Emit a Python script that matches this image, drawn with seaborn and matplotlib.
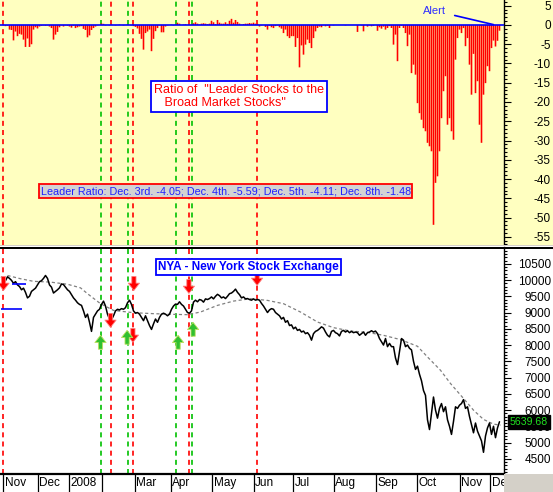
import numpy as np
import pandas as pd
import matplotlib
matplotlib.use("Agg")
import matplotlib.pyplot as plt
import matplotlib.transforms as mtransforms
from matplotlib.patches import Rectangle
import seaborn as sns

sns.set_style("white")
plt.rcParams['font.family'] = ['Liberation Sans', 'DejaVu Sans']
plt.rcParams['axes.unicode_minus'] = False

# ---------------- data ----------------
# leader-ratio bars, one per trading-day slot
ratio = [
    0, -0.1, -0.3, -0.2, -1.2, -1.3, -4.0, -1.7, -2.9, -2.3,
    -2.5, -3.8, -5.7, -3.5, -5.7, -5.0, -1.2, -0.6, -0.9, -0.4,
    -0.2, -0.1, -0.2, -0.1, -0.4, -0.8, -3.8, -2.5, -1.8, -0.6,
    -0.1, -0.4, -0.1, -0.2, -0.4, -0.7, -0.2, -0.8, -0.6, -0.4,
    -0.3, -1.0, -1.3, -3.2, -2.7, -1.3, -0.8, -0.4, -0.1, 0,
    0.4, 0.3, -0.1, 0, -0.1, 0.1, 0, -0.1, 0, 0.1,
    0, -0.1, 0, 0.1, 0, -0.1, -0.3, -0.5, -0.9, -2.3,
    -3.6, -6.4, -2.1, -1.7, -1.2, -6.8, -3.6, -1.6, -0.8, -0.1,
    -1.9, -1.9, -0.4, -0.1, 0, 0.1, -0.1, 0.1, 0.6, 0.35,
    0, 0.1, 0.2, 0, 0, 0.1, 0.45, 0.7, 0.35, 0.1,
    0.35, 0.45, 0.35, 0.2, 0.35, 1.1, 0.7, 0.2, 1.3, 0.6,
    0.35, 0.35, 0.7, 0.3, 1.1, 1.6, 0.6, 1.3, 0.8, 0.35,
    0.1, 0.25, 0.35, 0.35, 0.5, 0.4, 0.6, 0.35, 0.3, -0.4,
    -0.1, 0, -0.5, -1.2, -0.2, -0.6, -0.8, -0.3, -0.1, -0.6,
    -0.95, -2.1, -1.2, -2.9, -3.4, -2.9, -2.9, -5.7, -3.4, -11.0,
    -5.3, -7.7, -5.1, -3.8, -4.7, -6.0, -3.4, -1.65, -0.78, -0.43,
    -0.6, -0.1, -0.35, -0.2, -0.78, 0, -0.1, 0, 0, 0,
    0, 0, -0.1, 0, 0, 0, 0, 0, -1.8, 0,
    -0.1, -1.65, 0, -0.43, -0.1, -0.35, -0.2, 0, -1.5, -0.6,
    -0.95, -0.43, -1.2, -0.78, -0.3, -0.78, -5.1, -2.5, -9.4, -0.78,
    -0.2, -0.78, -2.1, -5.5, -2.5, -12.5, -10.3, -12.9, -20.3, -22.9,
    -24.6, -26.8, -27.6, -30.6, -31.5, -32.8, -51.9, -41.0, -39.3, -32.8,
    -24.2, -17.2, -13.3, -25.9, -24.2, -27.6, -29.8, -9.0, -3.4, -1.2,
    -2.1, -0.8, -5.5, -3.4, -10.3, -18.1, -7.5, -17.7, -14.6, -25.9,
    -30.6, -18.1, -15.1, -10.7, -12.0, -6.0, -4.05, -5.59, -4.11, -1.48,
]

# NYA close, one per slot
price = [
    10090, 9950, 9980, 10100, 10050, 9990, 9900, 9950, 9850, 9800,
    9700, 9750, 9620, 9450, 9500, 9650, 9700, 9750, 9850, 9950,
    9980, 10050, 10140, 10050, 9850, 9780, 9600, 9650, 9700, 9760,
    9880, 9860, 9780, 9700, 9650, 9550, 9450, 9380, 9300, 9250,
    9220, 9050, 8850, 8950, 8700, 8420, 8850, 8950, 9050, 9100,
    9250, 9350, 9200, 8950, 8800, 8780, 8900, 9050, 9100, 9080,
    9120, 9100, 9150, 9300, 9380, 9250, 9050, 8980, 9000, 8950,
    8850, 8750, 8900, 8750, 8600, 8480, 8650, 8800, 8700, 8850,
    8950, 8980, 8950, 8900, 8950, 9100, 9200, 9260, 9250, 9330,
    9250, 9200, 9100, 9000, 8980, 9050, 9320, 9380, 9330, 9400,
    9380, 9320, 9420, 9400, 9430, 9480, 9420, 9500, 9560, 9520,
    9450, 9480, 9430, 9500, 9580, 9600, 9650, 9720, 9620, 9550,
    9450, 9480, 9420, 9430, 9400, 9380, 9420, 9380, 9400, 9380,
    9280, 9200, 9100, 9000, 9080, 9120, 9100, 9000, 8950, 8900,
    8800, 8850, 8700, 8750, 8600, 8620, 8500, 8550, 8450, 8480,
    8400, 8430, 8350, 8380, 8300, 8150, 8350, 8420, 8450, 8500,
    8560, 8520, 8400, 8300, 8250, 8420, 8450, 8380, 8350, 8280,
    8420, 8450, 8400, 8440, 8380, 8420, 8380, 8400, 8380, 8300,
    8350, 8400, 8300, 8380, 8400, 8440, 8400, 8430, 8350, 8200,
    8100, 8000, 8200, 7950, 8050, 7950, 7950, 7600, 7400, 7800,
    8200, 8150, 7950, 8000, 7900, 7850, 7500, 7250, 7350, 7100,
    6900, 6600, 6450, 5700, 5400, 5900, 6400, 6000, 5750, 6050,
    6200, 5950, 6100, 5700, 5500, 5250, 5650, 6100, 6050, 6150,
    6200, 6320, 6050, 6100, 5800, 5550, 5300, 5600, 5350, 5200,
    5050, 4700, 5200, 5450, 5600, 5250, 5500, 5150, 5450, 5639.68,
]
last_price = 5639.68

# moving average (grey dashed), read at sparse slots
ma_slot = [3, 9.5, 16, 24.5, 33, 39.5, 43, 49.5, 56, 66, 76, 86, 93, 99.5, 108,
           116, 124.5, 133, 141, 149.5, 158, 166, 174.5, 183, 191, 199.5, 208,
           213, 219.5, 224.5, 231, 236, 241, 246, 249.5]
ma_val = [10140, 10040, 9960, 9936, 9870, 9760, 9579, 9272, 9066, 8995, 8965,
          8944, 8934, 9016, 9220, 9352, 9425, 9373, 9272, 9015, 8707, 8535,
          8431, 8390, 8299, 8167, 7961, 7633, 7224, 6816, 6356, 5996, 5711,
          5567, 5536]

# month boundaries (slot units) and labels
month_pos = [0.9, 18, 33.9, 50, 66.5, 84.5, 105.3, 126, 145.9, 166, 187.4, 207.5, 229, 244.3]
month_lab = ['Nov', 'Dec', '2008', '', 'Mar', 'Apr', 'May', 'Jun', 'Jul', 'Aug', 'Sep', 'Oct', 'Nov', 'Dec']

# signal lines
red_lines = [0.9, 54.7, 65.65, 93.7, 127.7]
green_lines = [49.75, 63.15, 87.25, 95.1]

# signal arrows (slot, price at arrow tip)
down_arrows = [(1.0, 9680), (66.2, 9680), (93.7, 9588), (127.8, 9834), (54.5, 8544), (65.7, 8084)]
up_arrows = [(49.5, 8299), (62.8, 8452), (88.3, 8299), (95.8, 8698)]

# short blue level marks at left
blue_levels = [(5, 12, 9886), (-0.5, 10, 9097)]

leader_text = ("Leader Ratio: Dec. 3rd. -4.05; Dec. 4th. -5.59; "
               "Dec. 5th. -4.11; Dec. 8th. -1.48")

# ---------------- figure ----------------
W, H = 553, 492
fig = plt.figure(figsize=(W / 100, H / 100), dpi=100, facecolor='white')
YEL = '#ffffc0'
GREY = '#d4d0c8'
XLIM = (-0.75, 251.25)

def fy(py):
    return 1 - py / H

# background bands
fig.add_artist(Rectangle((0, fy(245)), 1, 245 / H, transform=fig.transFigure,
                         fc=YEL, ec='none', zorder=-5))
fig.add_artist(Rectangle((0, fy(246.5)), 1, 2 / H, transform=fig.transFigure,
                         fc=GREY, ec='none', zorder=5))
fig.add_artist(Rectangle((0, fy(248.5)), 1, 2 / H, transform=fig.transFigure,
                         fc='black', ec='none', zorder=5))
fig.add_artist(Rectangle((504 / W, 0), 1 - 504 / W, 18 / H, transform=fig.transFigure,
                         fc=GREY, ec='none', zorder=6))

ax1 = fig.add_axes([0, fy(245), 504 / W, 245 / H])
ax2 = fig.add_axes([0, fy(474), 504 / W, (474 - 248.5) / H])

slots = np.arange(len(ratio))
df_r = pd.DataFrame({'slot': slots, 'ratio': ratio})
df_p = pd.DataFrame({'slot': np.arange(len(price)), 'price': price})
df_m = pd.DataFrame({'slot': ma_slot, 'ma': ma_val})

# ---- top panel ----
ax1.set_facecolor(YEL)
ax1.bar(df_r['slot'], df_r['ratio'], width=0.8, color='#ff0000', linewidth=0,
        edgecolor='none', snap=False, zorder=2)
ax1.axhline(0, color='#0000ff', lw=1.2, zorder=4)
for x in red_lines:
    ax1.axvline(x, color='#ff0000', lw=1.2, ls=(0, (3, 2.5)), zorder=1)
for x in green_lines:
    ax1.axvline(x, color='#00c000', lw=1.2, ls=(0, (3, 2.5)), zorder=1)
ax1.set_xlim(*XLIM)
ax1.set_ylim(-57.14, 6.49)
ax1.set_xticks([])
ax1.set_yticks(np.arange(-55, 6, 5))
ax1.set_yticks(np.arange(-57, 7, 1), minor=True)
ax1.set_xlabel('')
ax1.set_ylabel('')

ax1.text(0.474, 0.606, 'Ratio of  "Leader Stocks to the\n   Broad Market Stocks"',
         transform=ax1.transAxes, ha='center', va='center', multialignment='left',
         color='#ff0000', fontsize=9, linespacing=1.05, zorder=6,
         bbox=dict(boxstyle='square,pad=0.25', fc='white', ec='#0000ff', lw=1.3))
ax1.text(0.448, 0.220, leader_text, transform=ax1.transAxes, ha='center', va='center',
         color='#2020ff', fontsize=7.75, zorder=6,
         bbox=dict(boxstyle='square,pad=0.15', fc='#d3d3d3', ec='#ff0000', lw=1.3))
ax1.annotate('Alert', xy=(246, 0.1), xytext=(216.5, 3.7), color='#3030ff', fontsize=8,
             ha='center', va='center', zorder=6,
             arrowprops=dict(arrowstyle='-', color='#0000ff', lw=1.2, shrinkA=4, shrinkB=0))

# ---- bottom panel ----
ax2.set_facecolor('white')
for x in red_lines:
    ax2.axvline(x, color='#ff0000', lw=1.2, ls=(0, (3, 2.5)), zorder=1)
for x in green_lines:
    ax2.axvline(x, color='#00c000', lw=1.2, ls=(0, (3, 2.5)), zorder=1)
sns.lineplot(data=df_m, x='slot', y='ma', color='#808080', lw=0.9,
             linestyle=(0, (2.5, 2)), estimator=None, sort=False, ax=ax2, zorder=2)
sns.lineplot(data=df_p, x='slot', y='price', color='black', lw=1.1,
             estimator=None, sort=False, ax=ax2, zorder=3)
for x0, x1, lvl in blue_levels:
    ax2.hlines(lvl, x0, x1, color='#0000ff', lw=1.2, zorder=3)

ARROW = 'simple,head_width=0.85,head_length=0.55,tail_width=0.32'
for x, p in down_arrows:
    ax2.annotate('', xy=(x, p), xytext=(0, 10), textcoords='offset points',
                 arrowprops=dict(arrowstyle=ARROW, mutation_scale=9.5, fc='#ff0000',
                                 ec='#ff8080', lw=0.6, shrinkA=0, shrinkB=0), zorder=5)
for x, p in up_arrows:
    ax2.annotate('', xy=(x, p), xytext=(0, -10), textcoords='offset points',
                 arrowprops=dict(arrowstyle=ARROW, mutation_scale=9.5, fc='#30c030',
                                 ec='#c0e060', lw=0.6, shrinkA=0, shrinkB=0), zorder=5)

ax2.text(0.493, 0.918, 'NYA - New York Stock Exchange', transform=ax2.transAxes,
         ha='center', va='center', color='#0000ff', fontsize=8.5, fontweight='bold',
         zorder=6, bbox=dict(boxstyle='square,pad=0.15', fc='white', ec='#0000ff', lw=1.3))

ax2.set_xlim(*XLIM)
ax2.set_ylim(4032, 10970)
ax2.set_yticks(np.arange(4500, 10501, 500))
ax2.set_yticks(np.arange(4100, 10901, 100), minor=True)
ax2.set_xticks(month_pos)
ax2.set_xticklabels([''] * len(month_pos))
ax2.set_xlabel('')
ax2.set_ylabel('')

blend = mtransforms.blended_transform_factory(ax2.transData, ax2.transAxes)
for pos, lab in zip(month_pos, month_lab):
    ax2.text(pos + 0.8, -9 / 225.5, lab, transform=blend, ha='left', va='center',
             fontsize=8.5, color='black', clip_on=False)

blend_y = mtransforms.blended_transform_factory(ax2.transAxes, ax2.transData)
ax2.text(1 + 25 / 504, last_price, '5639.68', transform=blend_y, ha='center', va='center',
         color='#20e020', fontsize=7.6, zorder=20, clip_on=False,
         bbox=dict(boxstyle='square,pad=0.18', fc='black', ec='black'))

# ---- axes styling ----
for ax in (ax1, ax2):
    for s in ('left', 'top'):
        ax.spines[s].set_visible(False)
    ax.spines['right'].set_visible(True)
    ax.spines['right'].set_color('black')
    ax.spines['right'].set_linewidth(1.0)
    ax.yaxis.tick_right()
    ax.tick_params(axis='y', which='major', direction='out', length=5, width=0.8,
                   colors='black', labelsize=8.5, pad=28.8, right=True, left=False)
    ax.tick_params(axis='y', which='minor', direction='out', length=2.5, width=0.8,
                   colors='black', right=True, left=False)
    for t in ax.yaxis.get_major_ticks():
        t.label2.set_horizontalalignment('right')

ax1.spines['bottom'].set_visible(False)
ax2.spines['bottom'].set_visible(True)
ax2.spines['bottom'].set_color('black')
ax2.spines['bottom'].set_linewidth(1.6)
ax2.tick_params(axis='x', which='major', direction='out', length=13, width=0.9,
                colors='black', bottom=True)
ax1.grid(False)
ax2.grid(False)

fig.savefig('out.png', dpi=100, facecolor=fig.get_facecolor())
